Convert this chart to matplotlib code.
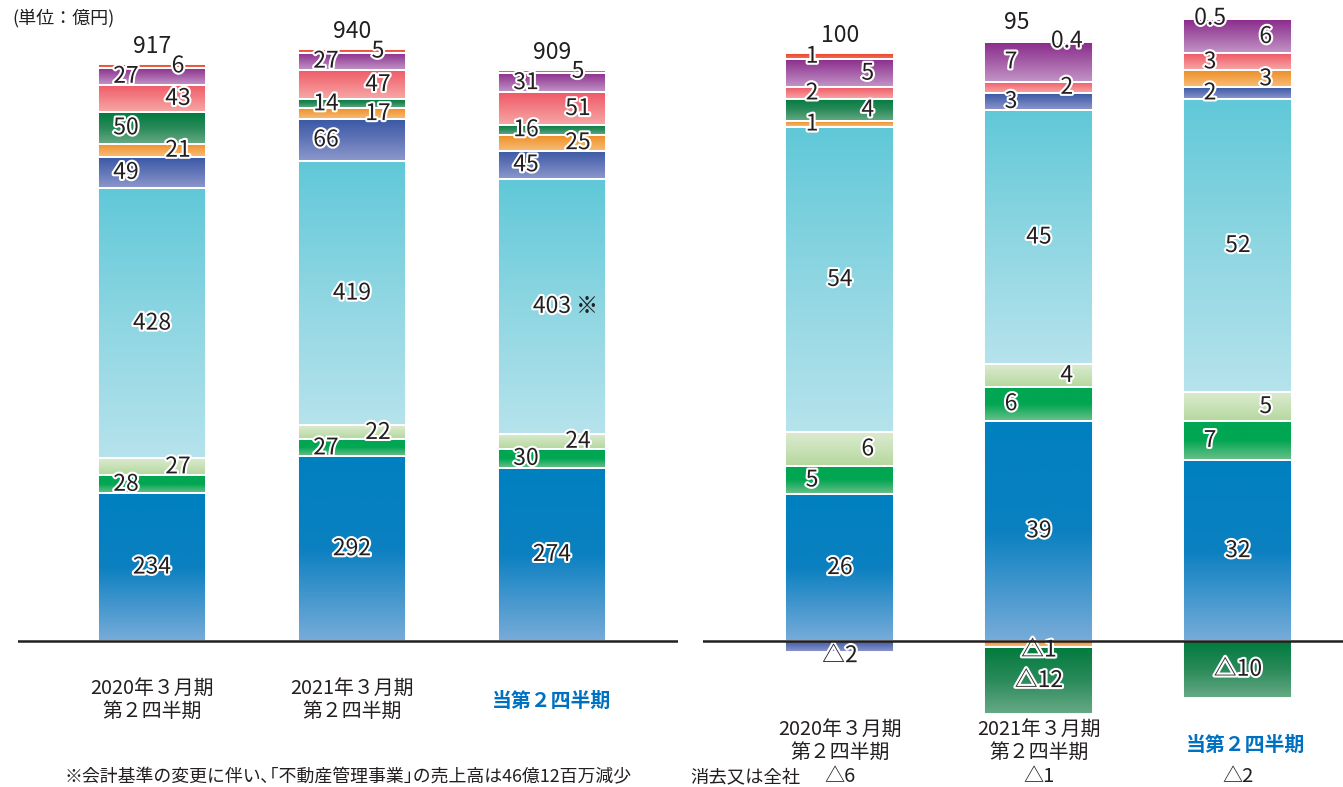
import numpy as np
import matplotlib
matplotlib.use("Agg")
import matplotlib.pyplot as plt
from matplotlib.colors import LinearSegmentedColormap
from matplotlib.patches import Rectangle
import matplotlib.patheffects as pe
from matplotlib.transforms import blended_transform_factory

plt.rcParams['font.family'] = ['Noto Sans CJK JP', 'DejaVu Sans']

# ---------------- data ----------------
periods = ["2020年３月期\n第２四半期", "2021年３月期\n第２四半期", "当第２四半期"]

# stack order bottom -> top (10 business segments)
sales_2020 = [234, 28, 27, 428, 49, 21, 50, 43, 27, 6]
sales_2021 = [292, 27, 22, 419, 66, 17, 14, 47, 27, 5]
sales_current = [274, 30, 24, 403, 45, 25, 16, 51, 31, 5]
sales_totals = ["917", "940", "909"]
sales_marks = ["", "", "※"]

profit_2020 = [26, 5, 6, 54, -2, 1, 4, 2, 5, 1]
profit_2021 = [39, 6, 4, 45, 3, -1, -12, 2, 7, 0.4]
profit_current = [32, 7, 5, 52, 2, 3, -10, 3, 6, 0.5]
profit_totals = ["100", "95", ""]
eliminations = [-6, -1, -2]

unit_label = "(単位：億円)"
elim_label = "消去又は全社"
footnote = "※会計基準の変更に伴い､｢不動産管理事業｣の売上高は46億12百万減少"

# ---------------- styles ----------------
# gradient stops (bottom -> top) for each stacked segment
seg_colors = [
    ["#78acd9", "#0b80c1", "#0080c0"],   # blue
    ["#6cc08c", "#00a651", "#00a651"],   # green
    ["#b5d79e", "#c9e2b8", "#dbebcf"],   # light green
    ["#b6e3ec", "#8ed6e2", "#60c8d8"],   # light cyan
    ["#8d99cc", "#6276b8", "#3a58a4"],   # navy
    ["#f7bd79", "#f3a650", "#ef8d22"],   # orange
    ["#68aa86", "#2a8a5a", "#007a3d"],   # dark green
    ["#f7a8a8", "#f38085", "#ef5867"],   # pink
    ["#c495c7", "#a55fa8", "#8a2a8b"],   # purple
    ["#f27355", "#ec5a40", "#e8412c"],   # red
]
cmaps = [LinearSegmentedColormap.from_list(f"c{i}", c) for i, c in enumerate(seg_colors)]

W, H, DPI = 1343, 787, 100
TEXT = "#231f20"
BLUE = "#0070c0"
stroke = [pe.withStroke(linewidth=3, foreground="white")]

fig = plt.figure(figsize=(W / DPI, H / DPI), dpi=DPI)

def fig_y(py):
    return 1 - py / H

ax_l = fig.add_axes([18 / W, 0, 660 / W, 1])
ax_r = fig.add_axes([703 / W, 0, 640 / W, 1])

grad = np.linspace(0, 1, 256).reshape(-1, 1)


def fmt(v):
    s = f"{abs(v):g}"
    return ("△" if v < 0 else "") + s


def draw_panel(ax, data, width, dx_side, fs):
    for i, vals in enumerate(data):
        pos, neg = 0.0, 0.0
        side = -1
        for k, v in enumerate(vals):
            if v >= 0:
                y0, y1 = pos, pos + v
                pos = y1
            else:
                y0, y1 = neg + v, neg
                neg = y0
            xl, xr = i - width / 2, i + width / 2
            ax.imshow(grad, extent=(xl, xr, y0, y1), origin="lower", cmap=cmaps[k],
                      aspect="auto", interpolation="bilinear", zorder=2)
            ax.add_patch(Rectangle((xl, y0), width, y1 - y0, fill=False,
                                   edgecolor="white", lw=1.4, zorder=3))
            # label position
            if v < 0:
                lx = i
                ly = (y0 + y1) / 2 if abs(v) >= 3 else y0 - 0.6
            elif k in (0, 3):
                lx = i
                ly = (y0 + y1) / 2
            else:
                lx = i + side * dx_side
                side = -side
                ly = (y0 + y1) / 2
            ax.text(lx, ly, fmt(v), ha="center", va="center", fontsize=fs,
                    color=TEXT, path_effects=stroke, zorder=5)
    return


sales = [sales_2020, sales_2021, sales_current]
profits = [profit_2020, profit_2021, profit_current]

# left panel
draw_panel(ax_l, sales, 0.54, 0.13, 16.5)
ax_l.set_xlim(-0.67, 2.63)
ax_l.set_ylim(-146 / 0.632, 641 / 0.632)
ax_l.axhline(0, color=TEXT, lw=1.8, zorder=6)
for i, vals in enumerate(sales):
    top = sum(v for v in vals if v > 0)
    ax_l.annotate(sales_totals[i], (i, top), xytext=(0, 8), textcoords="offset points",
                  ha="center", va="baseline", fontsize=16.5, color=TEXT, zorder=5)
    if sales_marks[i]:
        mid = sum(vals[:3]) + vals[3] / 2
        ax_l.annotate(sales_marks[i], (i, mid), xytext=(17, 0), textcoords="offset points",
                      ha="left", va="center", fontsize=16, color=TEXT, zorder=5)

# right panel
draw_panel(ax_r, profits, 0.548, 0.14, 16.5)
ax_r.set_xlim(-0.688, 2.528)
ax_r.set_ylim(-146 / 5.65, 641 / 5.65)
ax_r.axhline(0, color=TEXT, lw=1.8, zorder=6)
total_dx = [0, -0.11, 0]
for i, vals in enumerate(profits):
    if profit_totals[i]:
        top = sum(v for v in vals if v > 0)
        ax_r.annotate(profit_totals[i], (i + total_dx[i], top), xytext=(0, 8),
                      textcoords="offset points", ha="center", va="baseline",
                      fontsize=16.5, color=TEXT, zorder=5)

for ax in (ax_l, ax_r):
    ax.axis("off")

# category labels
tl = blended_transform_factory(ax_l.transData, fig.transFigure)
tr = blended_transform_factory(ax_r.transData, fig.transFigure)
for i, p in enumerate(periods):
    cur = (i == 2)
    kw = dict(ha="center", va="center", fontsize=14.3, linespacing=1.1,
              color=BLUE if cur else TEXT, fontweight="bold" if cur else "normal")
    ax_l.text(i, fig_y(700), p, transform=tl, **kw)
    ax_r.text(i + (0.04 if cur else 0), fig_y(744 if cur else 741), p, transform=tr, **kw)
    ax_r.text(i, fig_y(777), fmt(eliminations[i]), transform=tr, ha="center",
              va="center", fontsize=14.5, color=TEXT)

fig.text(690 / W, fig_y(777), elim_label, ha="left", va="center", fontsize=13.2, color=TEXT)
fig.text(65 / W, fig_y(777), footnote, ha="left", va="center", fontsize=12.9, color=TEXT)
fig.text(12 / W, fig_y(18), unit_label, ha="left", va="center", fontsize=13, color=TEXT)

fig.savefig("out.png", dpi=DPI)
